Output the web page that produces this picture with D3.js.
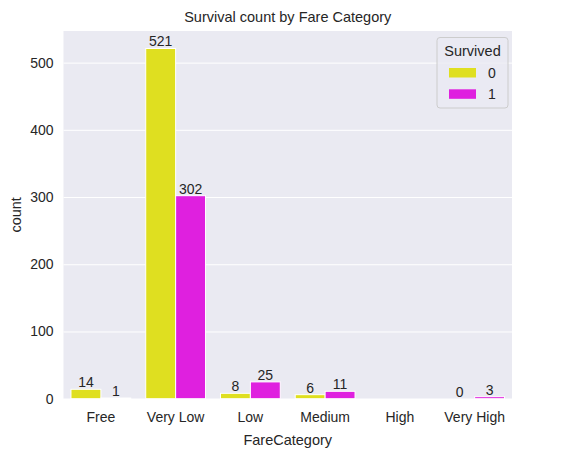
<!DOCTYPE html>
<html><head><meta charset="utf-8">
<script src="https://cdn.jsdelivr.net/npm/d3@7"></script>
<style>body{margin:0;background:#fff}svg{display:block;font-family:"Liberation Sans",Arial,sans-serif}</style>
</head><body><svg id="c" width="575" height="457"></svg>
<script>
const categories = ["Free","Very Low","Low","Medium","High","Very High"];
const survived0 = [14,521,8,6,null,0];
const survived1 = [1,302,25,11,null,3];
const hueLabels = ["0","1"];
const hueColors = ["#dfdf20","#df20df"];
const yTicks = [0,100,200,300,400,500];

const svg = d3.select("#c");
const m = {l:63.5, r:512, t:31, b:398.7};
const x = d3.scaleBand().domain(categories).range([m.l,m.r]).paddingInner(0).paddingOuter(0);
const y = d3.scaleLinear().domain([0,547]).range([m.b,m.t]);
const hx = d3.scaleBand().domain(hueLabels).range([0,x.bandwidth()*0.8]);

svg.append("rect").attr("x",m.l).attr("y",m.t).attr("width",m.r-m.l).attr("height",m.b-m.t).attr("fill","#eaeaf2");
const yAxis = svg.append("g").attr("transform",`translate(${m.l},0)`).call(d3.axisLeft(y).tickValues(yTicks).tickSize(-(m.r-m.l)).tickPadding(10));
yAxis.select(".domain").remove();
yAxis.selectAll("line").attr("stroke","#fff").attr("stroke-width",1);
yAxis.selectAll("text").attr("font-size",14).attr("fill","#262626").attr("font-family","Liberation Sans, Arial, sans-serif");

const xAxis = svg.append("g").attr("transform",`translate(0,${m.b})`).call(d3.axisBottom(x).tickSize(0).tickPadding(13));
xAxis.select(".domain").remove();
xAxis.selectAll("text").attr("font-size",14).attr("fill","#262626").attr("font-family","Liberation Sans, Arial, sans-serif");

const series = [survived0, survived1];
series.forEach((vals,h)=>{
  const g = svg.append("g");
  categories.forEach((c,i)=>{
    const v = vals[i];
    if (v===null) return;
    const bx = x(c)+x.bandwidth()*0.1+hx(hueLabels[h]);
    g.append("rect").attr("x",bx).attr("y",y(v)).attr("width",hx.bandwidth()).attr("height",y(0)-y(v))
      .attr("fill",hueColors[h]).attr("stroke","#fff").attr("stroke-width",1);
    g.append("text").attr("x",bx+hx.bandwidth()/2).attr("y",y(v)-2).attr("text-anchor","middle")
      .attr("font-size",14).attr("fill","#262626").text(v);
  });
});

svg.append("text").attr("x",(m.l+m.r)/2).attr("y",22).attr("text-anchor","middle").attr("font-size",14.5).attr("fill","#262626").text("Survival count by Fare Category");
svg.append("text").attr("x",(m.l+m.r)/2).attr("y",445).attr("text-anchor","middle").attr("font-size",14.5).attr("fill","#262626").text("FareCategory");
svg.append("text").attr("transform",`translate(21,${(m.t+m.b)/2}) rotate(-90)`).attr("text-anchor","middle").attr("font-size",14.5).attr("fill","#262626").text("count");

// legend
const lg = svg.append("g");
lg.append("rect").attr("x",437).attr("y",37.5).attr("width",71).attr("height",70.5).attr("rx",3)
  .attr("fill","#eaeaf2").attr("fill-opacity",0.8).attr("stroke","#cccccc").attr("stroke-width",1);
lg.append("text").attr("x",472.5).attr("y",56).attr("text-anchor","middle").attr("font-size",14.5).attr("fill","#262626").text("Survived");
hueLabels.forEach((l,i)=>{
  const yy = 68+i*21.3;
  lg.append("rect").attr("x",449).attr("y",yy).attr("width",27).attr("height",9.5).attr("fill",hueColors[i]);
  lg.append("text").attr("x",488).attr("y",yy+10).attr("font-size",14).attr("fill","#262626").text(l);
});
</script></body></html>
